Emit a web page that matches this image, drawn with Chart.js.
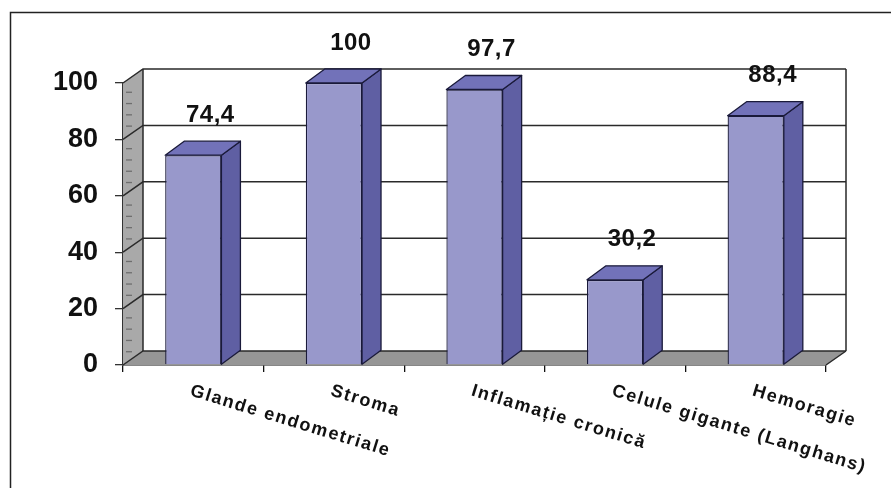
<!DOCTYPE html>
<html>
<head>
<meta charset="utf-8">
<script src="https://cdn.jsdelivr.net/npm/chart.js@4/dist/chart.umd.min.js"></script>
<style>
html,body{margin:0;padding:0;background:#fff;}
#wrap{width:891px;height:488px;position:relative;}
</style>
</head>
<body>
<div id="wrap"><canvas id="c" width="891" height="488"></canvas></div>
<script>
const categories = ['Glande endometriale', 'Stroma', 'Inflamație cronică', 'Celule gigante (Langhans)', 'Hemoragie'];
const values = [74.4, 100, 97.7, 30.2, 88.4];
const yTickValues = [0, 20, 40, 60, 80, 100];

const FONT = "'Liberation Sans', Arial, sans-serif";
const WALL_DX = 20, WALL_DY = -14;
const BAR_DX = 19, BAR_DY = -14;

function poly(ctx, pts, fill, stroke, lw) {
  ctx.beginPath();
  ctx.moveTo(pts[0][0], pts[0][1]);
  for (let i = 1; i < pts.length; i++) ctx.lineTo(pts[i][0], pts[i][1]);
  ctx.closePath();
  if (fill) { ctx.fillStyle = fill; ctx.fill(); }
  if (stroke) { ctx.strokeStyle = stroke; ctx.lineWidth = lw || 1; ctx.stroke(); }
}

const threeD = {
  id: 'threeD',
  beforeDatasetsDraw(chart) {
    const {ctx, chartArea: a, scales: {y}} = chart;
    ctx.save();
    poly(ctx, [[a.left, a.top], [a.left + WALL_DX, a.top + WALL_DY], [a.left + WALL_DX, a.bottom + WALL_DY], [a.left, a.bottom]], '#a9a9a9');
    poly(ctx, [[a.left, a.bottom], [a.right, a.bottom], [a.right + WALL_DX, a.bottom + WALL_DY], [a.left + WALL_DX, a.bottom + WALL_DY]], '#969696');
    ctx.strokeStyle = '#6e6e6e';
    ctx.lineWidth = 1.3;
    for (let v = 0; v < 100; v += 4) {
      if (v % 20 === 0) continue;
      const yy = y.getPixelForValue(v);
      ctx.beginPath();
      ctx.moveTo(a.left + 3, yy - 2);
      ctx.lineTo(a.left + 9, yy - 2);
      ctx.stroke();
    }
    ctx.strokeStyle = '#2a2a2a';
    ctx.lineWidth = 1.5;
    y.ticks.forEach(t => {
      const yy = y.getPixelForValue(t.value);
      ctx.beginPath();
      ctx.moveTo(a.left, yy);
      ctx.lineTo(a.left + WALL_DX, yy + WALL_DY);
      ctx.lineTo(a.right + WALL_DX, yy + WALL_DY);
      ctx.stroke();
    });
    ctx.beginPath();
    ctx.moveTo(a.left + WALL_DX, a.top + WALL_DY);
    ctx.lineTo(a.left + WALL_DX, a.bottom + WALL_DY);
    ctx.moveTo(a.right + WALL_DX, a.top + WALL_DY);
    ctx.lineTo(a.right + WALL_DX, a.bottom + WALL_DY);
    ctx.moveTo(a.right, a.bottom);
    ctx.lineTo(a.right + WALL_DX, a.bottom + WALL_DY);
    ctx.stroke();
    ctx.restore();
  },
  afterDatasetsDraw(chart) {
    const {ctx} = chart;
    const meta = chart.getDatasetMeta(0);
    ctx.save();
    ctx.lineJoin = 'round';
    meta.data.forEach(bar => {
      const {x, y, base, width} = bar.getProps(['x', 'y', 'base', 'width'], true);
      const l = x - width / 2, r = x + width / 2;
      poly(ctx, [[r, y], [r + BAR_DX, y + BAR_DY], [r + BAR_DX, base + BAR_DY], [r, base]], '#5f5fa3', '#1a1a3a', 1.3);
      poly(ctx, [[l, y], [l + BAR_DX, y + BAR_DY], [r + BAR_DX, y + BAR_DY], [r, y]], '#7272b9', '#1a1a3a', 1.3);
    });
    ctx.restore();
  },
  afterDraw(chart) {
    const {ctx, chartArea: a, scales: {x}} = chart;
    const meta = chart.getDatasetMeta(0);
    ctx.save();
    ctx.strokeStyle = '#222';
    ctx.lineWidth = 1.5;
    ctx.beginPath();
    ctx.moveTo(10.5, 488);
    ctx.lineTo(10.5, 12.5);
    ctx.lineTo(891, 12.5);
    ctx.stroke();
    ctx.fillStyle = '#111';
    ctx.font = 'bold 24px ' + FONT;
    ctx.textAlign = 'center';
    ctx.textBaseline = 'middle';
    if ('letterSpacing' in ctx) ctx.letterSpacing = '0.5px';
    meta.data.forEach((bar, i) => {
      const txt = String(values[i]).replace('.', ',');
      ctx.fillText(txt, bar.x + 17, bar.y - 40);
    });
    ctx.font = 'bold 18px ' + FONT;
    ctx.textAlign = 'left';
    ctx.textBaseline = 'top';
    if ('letterSpacing' in ctx) ctx.letterSpacing = '1.6px';
    categories.forEach((c, i) => {
      const px = x.getPixelForValue(i);
      ctx.save();
      ctx.translate(px, a.bottom + 17);
      ctx.rotate(17 * Math.PI / 180);
      ctx.fillText(c, 0, 0);
      ctx.restore();
    });
    ctx.restore();
  }
};

new Chart(document.getElementById('c'), {
  type: 'bar',
  data: {
    labels: categories,
    datasets: [{
      data: values,
      backgroundColor: '#9898cb',
      borderColor: '#1a1a3a',
      borderWidth: 1.3,
      barPercentage: 0.4,
      categoryPercentage: 1.0
    }]
  },
  options: {
    responsive: false,
    animation: false,
    layout: {padding: {left: 10, top: 83, right: 65, bottom: 0}},
    plugins: {legend: {display: false}, tooltip: {enabled: false}},
    scales: {
      x: {
        offset: true,
        ticks: {display: false},
        grid: {display: true, drawOnChartArea: false, drawTicks: true, tickLength: 7, color: '#111', lineWidth: 1.3, offset: true},
        border: {display: true, color: '#111', width: 1.5},
        afterFit(s) { s.height = 123; }
      },
      y: {
        min: 0,
        max: 100,
        afterBuildTicks(s) { s.ticks = yTickValues.map(v => ({value: v})); },
        ticks: {
          color: '#111',
          padding: 17,
          font: {family: FONT, size: 27, weight: 'bold'}
        },
        grid: {display: true, drawOnChartArea: false, drawTicks: true, tickLength: 8, color: '#333', lineWidth: 1.3},
        border: {display: true, color: '#333', width: 1.5},
        afterFit(s) { s.width = 113; }
      }
    }
  },
  plugins: [threeD]
});
</script>
</body>
</html>
